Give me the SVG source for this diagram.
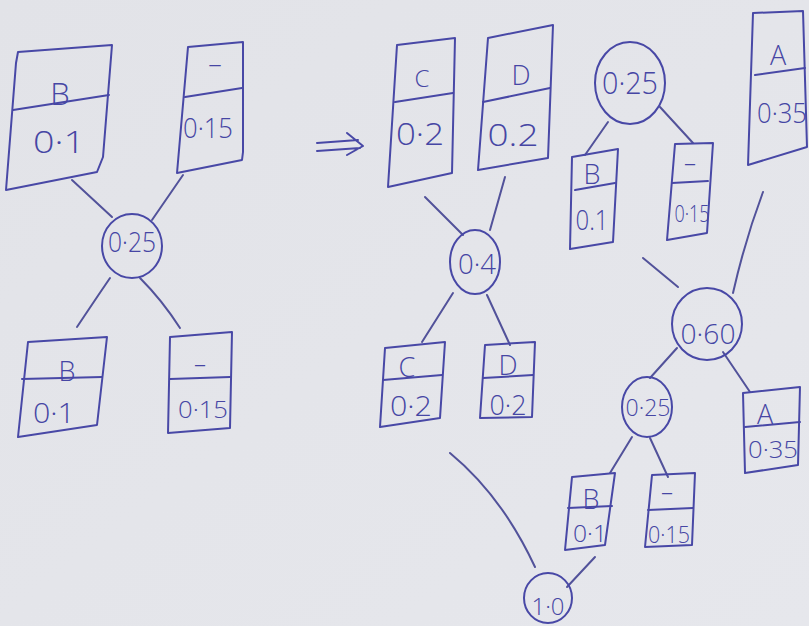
<svg xmlns="http://www.w3.org/2000/svg" width="809" height="626" viewBox="0 0 809 626">
  <style>
    .ink { fill: none; stroke: #4848a6; stroke-width: 2; stroke-linejoin: round; stroke-linecap: round; }
    .wire { fill: none; stroke: #52529a; stroke-width: 2; stroke-linecap: round; }
    .t { fill: #4646a4; font-family: "Open Sans", "Liberation Sans", "DejaVu Sans", sans-serif; font-weight: 300; text-anchor: middle; }
    .big { font-size: 31px; }
    .mid { font-size: 27px; }
    .sm { font-size: 24px; }
  </style>
  <defs>
    <linearGradient id="paper" x1="0" y1="0" x2="1" y2="1">
      <stop offset="0" stop-color="#e2e3e8"/>
      <stop offset="1" stop-color="#e6e7ec"/>
    </linearGradient>
  </defs>
  <rect width="809" height="626" fill="url(#paper)"/>

  <!-- connectors -->
  <g id="connectors">
    <path class="wire" d="M72 180 L112 217"/>
    <path class="wire" d="M183 175 L152 220"/>
    <path class="wire" d="M110 278 Q95 300 77 327"/>
    <path class="wire" d="M140 278 Q162 300 180 328"/>
    <!-- transformation arrow -->
    <path class="ink" d="M317 143 L358 140 M317 151 L360 148 M347 133 L363 146 L347 155"/>
    <path class="wire" d="M425 197 L463 235"/>
    <path class="wire" d="M505 177 L490 230"/>
    <path class="wire" d="M453 293 L422 342"/>
    <path class="wire" d="M487 295 L510 345"/>
    <path class="wire" d="M608 122 L585 155"/>
    <path class="wire" d="M660 107 L693 143"/>
    <path class="wire" d="M643 258 L678 287"/>
    <path class="wire" d="M763 192 Q745 240 733 293"/>
    <path class="wire" d="M677 348 L650 378"/>
    <path class="wire" d="M723 352 L750 392"/>
    <path class="wire" d="M632 437 L610 473"/>
    <path class="wire" d="M650 438 L668 477"/>
    <path class="wire" d="M450 453 Q502 496 535 567"/>
    <path class="wire" d="M595 557 L567 587"/>
  </g>

  <!-- first stage -->
  <g id="leafB1">
    <polygon class="ink" points="18,52 112,45 103,157 97,172 6,190 16,63"/>
    <line class="ink" x1="13" y1="110" x2="109" y2="95"/>
    <text class="t big" x="60" y="105">B</text>
    <text class="t big" x="59" y="153" textLength="52" lengthAdjust="spacingAndGlyphs">0·1</text>
  </g>
  <g id="leafDash1">
    <polygon class="ink" points="188,47 243,42 243,152 242,160 177,173"/>
    <line class="ink" x1="185" y1="97" x2="242" y2="88"/>
    <text class="t mid" x="215" y="73">–</text>
    <text class="t mid" x="208" y="138" textLength="50" lengthAdjust="spacingAndGlyphs">0·15</text>
  </g>
  <g id="sum025a">
    <ellipse class="ink" cx="132" cy="246" rx="30" ry="32"/>
    <text class="t mid" x="132" y="252" textLength="48" lengthAdjust="spacingAndGlyphs">0·25</text>
  </g>
  <g id="leafB2">
    <polygon class="ink" points="28,342 107,337 97,425 18,437"/>
    <line class="ink" x1="22" y1="379" x2="102" y2="377"/>
    <text class="t mid" x="67" y="381">B</text>
    <text class="t mid" x="54" y="423" textLength="42" lengthAdjust="spacingAndGlyphs">0·1</text>
  </g>
  <g id="leafDash2">
    <polygon class="ink" points="170,337 232,332 230,428 168,433"/>
    <line class="ink" x1="170" y1="379" x2="230" y2="377"/>
    <text class="t sm" x="200" y="372">–</text>
    <text class="t sm" x="203" y="418" textLength="50" lengthAdjust="spacingAndGlyphs">0·15</text>
  </g>

  <!-- second stage -->
  <g id="leafC1">
    <polygon class="ink" points="397,45 455,38 452,173 388,187"/>
    <line class="ink" x1="395" y1="102" x2="453" y2="93"/>
    <text class="t sm" x="422" y="87">C</text>
    <text class="t big" x="420" y="145" textLength="48" lengthAdjust="spacingAndGlyphs">0·2</text>
  </g>
  <g id="leafD1">
    <polygon class="ink" points="488,38 553,25 548,158 478,170"/>
    <line class="ink" x1="483" y1="102" x2="550" y2="88"/>
    <text class="t mid" x="521" y="85">D</text>
    <text class="t big" x="513" y="146" textLength="51" lengthAdjust="spacingAndGlyphs">0.2</text>
  </g>
  <g id="sum04">
    <ellipse class="ink" cx="475" cy="262" rx="25" ry="32"/>
    <text class="t mid" x="477" y="274" textLength="38" lengthAdjust="spacingAndGlyphs">0·4</text>
  </g>
  <g id="leafC2">
    <polygon class="ink" points="385,348 445,342 440,418 380,427"/>
    <line class="ink" x1="383" y1="380" x2="442" y2="375"/>
    <text class="t mid" x="407" y="377">C</text>
    <text class="t mid" x="411" y="416" textLength="42" lengthAdjust="spacingAndGlyphs">0·2</text>
  </g>
  <g id="leafD2">
    <polygon class="ink" points="485,345 535,342 532,417 480,418"/>
    <line class="ink" x1="483" y1="378" x2="533" y2="375"/>
    <text class="t mid" x="508" y="375">D</text>
    <text class="t mid" x="508" y="415" textLength="37" lengthAdjust="spacingAndGlyphs">0·2</text>
  </g>

  <!-- third stage -->
  <g id="sum025b">
    <ellipse class="ink" cx="630" cy="83" rx="35" ry="41"/>
    <text class="t big" x="630" y="94" textLength="56" lengthAdjust="spacingAndGlyphs">0·25</text>
  </g>
  <g id="leafB3">
    <polygon class="ink" points="572,157 618,149 613,242 570,249"/>
    <line class="ink" x1="575" y1="190" x2="615" y2="183"/>
    <text class="t mid" x="592" y="184">B</text>
    <text class="t mid" x="592" y="230" textLength="33" lengthAdjust="spacingAndGlyphs">0.1</text>
  </g>
  <g id="leafDash3">
    <polygon class="ink" points="675,144 713,143 707,233 667,240"/>
    <line class="ink" x1="672" y1="183" x2="708" y2="181"/>
    <text class="t sm" x="690" y="171">–</text>
    <text class="t sm" x="692" y="222" textLength="35" lengthAdjust="spacingAndGlyphs">0·15</text>
  </g>
  <g id="leafA1">
    <polygon class="ink" points="753,13 803,11 807,147 748,165"/>
    <line class="ink" x1="755" y1="75" x2="805" y2="68"/>
    <text class="t mid" x="778" y="65">A</text>
    <text class="t mid" x="782" y="123" textLength="50" lengthAdjust="spacingAndGlyphs">0·35</text>
  </g>
  <g id="sum060">
    <ellipse class="ink" cx="707" cy="324" rx="35" ry="36"/>
    <text class="t mid" x="708" y="344" textLength="55" lengthAdjust="spacingAndGlyphs">0·60</text>
  </g>
  <g id="sum025c">
    <ellipse class="ink" cx="647" cy="407" rx="25" ry="30"/>
    <text class="t sm" x="648" y="416" textLength="45" lengthAdjust="spacingAndGlyphs">0·25</text>
  </g>
  <g id="leafA2">
    <polygon class="ink" points="743,393 800,387 798,465 745,473"/>
    <line class="ink" x1="745" y1="427" x2="800" y2="422"/>
    <text class="t mid" x="765" y="424">A</text>
    <text class="t sm" x="773" y="458" textLength="50" lengthAdjust="spacingAndGlyphs">0·35</text>
  </g>
  <g id="leafB4">
    <polygon class="ink" points="572,477 615,473 605,545 565,550"/>
    <line class="ink" x1="568" y1="508" x2="612" y2="506"/>
    <text class="t mid" x="591" y="509">B</text>
    <text class="t sm" x="590" y="542" textLength="34" lengthAdjust="spacingAndGlyphs">0·1</text>
  </g>
  <g id="leafDash4">
    <polygon class="ink" points="652,475 695,473 692,545 645,547"/>
    <line class="ink" x1="648" y1="510" x2="693" y2="508"/>
    <text class="t sm" x="667" y="500">–</text>
    <text class="t sm" x="669" y="543" textLength="42" lengthAdjust="spacingAndGlyphs">0·15</text>
  </g>
  <g id="root10">
    <ellipse class="ink" cx="548" cy="598" rx="24" ry="25"/>
    <text class="t sm" x="548" y="615" textLength="33" lengthAdjust="spacingAndGlyphs">1·0</text>
  </g>
</svg>
